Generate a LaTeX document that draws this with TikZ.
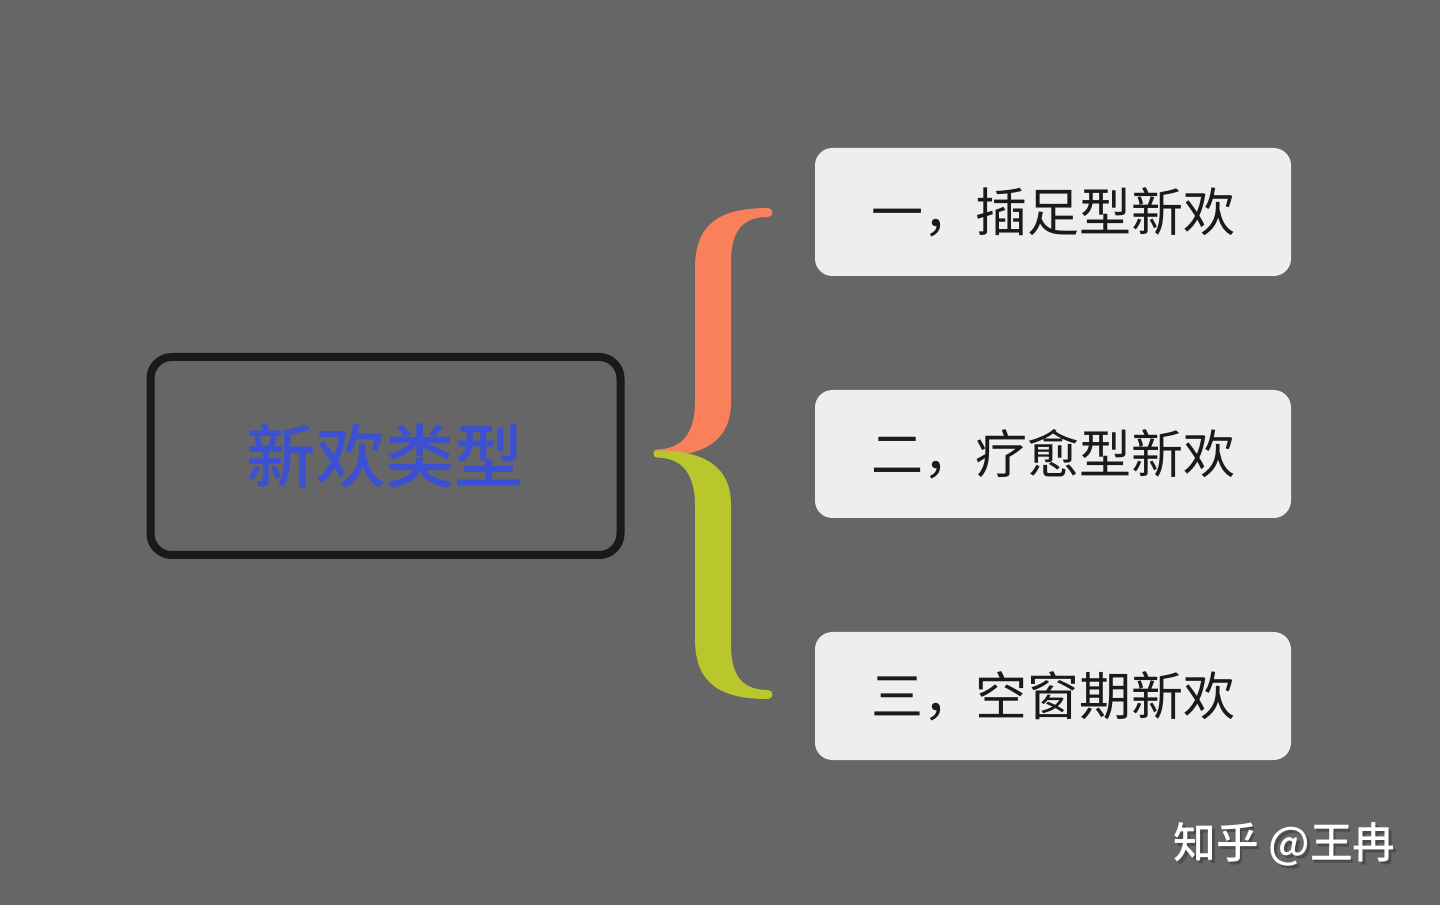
\documentclass[tikz,border=0pt]{standalone}
\usepackage{fontspec}
\newfontfamily\cjk{Noto Sans CJK SC}
\newfontfamily\cjkmed{Noto Sans CJK SC Medium}
\definecolor{bg}{HTML}{666666}
\definecolor{titleblue}{HTML}{3B50D2}
\definecolor{braceorange}{HTML}{F9805A}
\definecolor{bracegreen}{HTML}{BAC72C}
\definecolor{childfill}{HTML}{EEEEEE}
\definecolor{childtext}{HTML}{1A1A1A}
\begin{document}
\begin{tikzpicture}[x=0.75pt,y=-0.75pt,
  rootbox/.style={draw=childtext,line width=6pt,rounded corners=16pt,minimum width=352.5pt,minimum height=148.5pt,inner sep=0pt,
    font=\cjkmed\fontsize{52}{60}\selectfont,text=titleblue},
  childbox/.style={fill=childfill,rounded corners=13pt,minimum width=357pt,minimum height=96pt,inner sep=0pt,
    font=\cjk\fontsize{39}{46}\selectfont,text=childtext},
  signtext/.style={font=\cjkmed\fontsize{32}{38}\selectfont,inner sep=0pt}
]
\useasboundingbox (0,0) rectangle (1440,905);
\fill[bg] (0,0) rectangle (1440,905);

% root
\node[rootbox] (root) at (385.5,456) {新欢类型};

% children
\node[childbox] (c1) at (1053,212) {一，插足型新欢};
\node[childbox] (c2) at (1053,454) {二，疗愈型新欢};
\node[childbox] (c3) at (1053,696) {三，空窗期新欢};

% braces
\newcommand{\halfbrace}{%
  (768,208) .. controls (722,208) and (695,222) .. (695,268)
  -- (695,402) .. controls (695,438) and (678,449) .. (657,449.5)
  arc[start angle=-90,end angle=-270,radius=3.5]
  .. controls (705,456.5) and (731,440) .. (731,402)
  -- (731,262) .. controls (731,228) and (745,217) .. (768,217)
  arc[start angle=90,end angle=-90,radius=4.5] -- cycle}
\fill[braceorange] \halfbrace;
\begin{scope}[yshift=-680.25pt,yscale=-1]
\fill[bracegreen] \halfbrace;
\end{scope}
\coordinate (tip) at (656,453);

% signature
\node[signtext,text=black!70,anchor=west] (sigs) at (1176,847) {知乎 @王冉};
\node[signtext,text=white,anchor=west] (sig) at (1173.5,844.5) {知乎 @王冉};
\end{tikzpicture}
\end{document}
